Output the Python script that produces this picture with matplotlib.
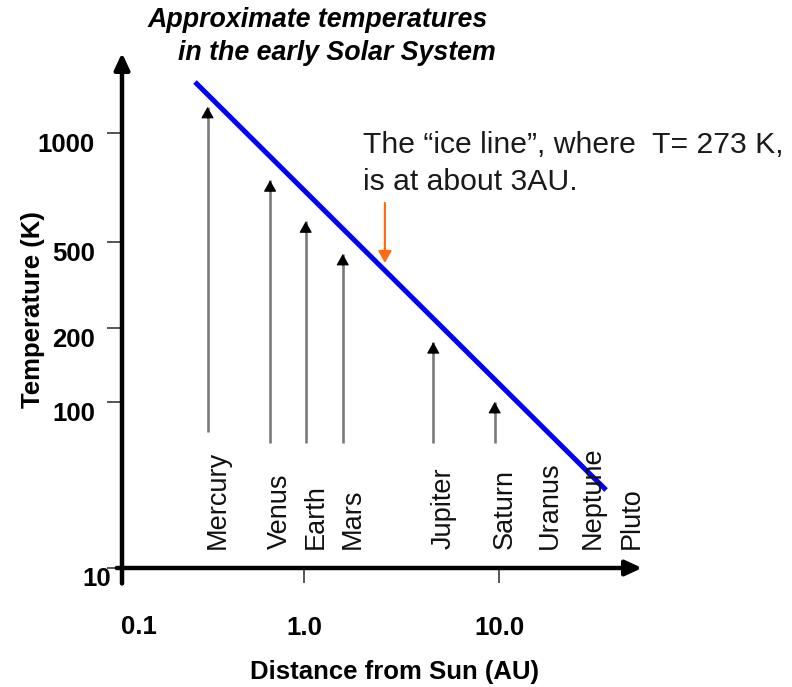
import numpy as np
import matplotlib
matplotlib.use('Agg')
import matplotlib.pyplot as plt

plt.rcParams['font.family'] = ['Liberation Sans', 'DejaVu Sans']
plt.rcParams['ytick.alignment'] = 'top'

# values
planets = ['Mercury', 'Venus', 'Earth', 'Mars', 'Jupiter', 'Saturn', 'Uranus', 'Neptune', 'Pluto']
planet_au = [0.32, 0.67, 1.02, 1.58, 4.6, 9.5, 16.2, 27.0, 42.7]
arrow_top_k = [1180, 740, 570, 440, 175, 100]   # only the first six planets have arrows
arrow_base_k = [66, 57, 57, 57, 57, 57]
line_au = [0.276, 35.4]
line_k = [1383, 29.5]
ice_au = 2.6
ice_k = [641, 400]   # arrow start, arrow tip

y_ticks = [10, 100, 200, 500, 1000]
y_tick_labels = ['', '100', '200', '500', '1000']
x_ticks = [1, 10]
x_tick_labels = ['1.0', '10.0']

# the temperature axis in the original is hand spaced, so the scale follows its ticks
LOG_T = np.log10(y_ticks)
TICK_H = np.array([0, 166, 240, 326, 435], float)
LO_SLOPE = (TICK_H[1] - TICK_H[0]) / (LOG_T[1] - LOG_T[0])
HI_SLOPE = (TICK_H[-1] - TICK_H[-2]) / (LOG_T[-1] - LOG_T[-2])


def _fwd(v):
    lv = np.log10(np.maximum(np.asarray(v, float), 1e-6))
    out = np.interp(lv, LOG_T, TICK_H)
    out = np.where(lv < LOG_T[0], TICK_H[0] + (lv - LOG_T[0]) * LO_SLOPE, out)
    out = np.where(lv > LOG_T[-1], TICK_H[-1] + (lv - LOG_T[-1]) * HI_SLOPE, out)
    return out


def _inv(h):
    h = np.asarray(h, float)
    lv = np.interp(h, TICK_H, LOG_T)
    lv = np.where(h < TICK_H[0], LOG_T[0] + (h - TICK_H[0]) / LO_SLOPE, lv)
    lv = np.where(h > TICK_H[-1], LOG_T[-1] + (h - TICK_H[-1]) / HI_SLOPE, lv)
    return 10 ** lv


fig = plt.figure(figsize=(7.92, 6.87), dpi=100)
ax = fig.add_axes([122 / 792, 119 / 687, 520 / 792, 515 / 687])
ax.set_xscale('log')
ax.set_yscale('function', functions=(_fwd, _inv))
ax.set_xlim(0.1166, 54.1)
ax.set_ylim(10, 1663)
for s in ax.spines.values():
    s.set_visible(False)

# axes drawn as arrows
axis_kw = dict(arrowstyle='-|>,head_length=0.75,head_width=0.35', lw=3.2, color='black',
               shrinkA=0, shrinkB=0, mutation_scale=13)
ax.annotate('', xy=(0, 1), xytext=(0, -0.03), xycoords='axes fraction',
            arrowprops=axis_kw, annotation_clip=False)
ax.annotate('', xy=(1, 0), xytext=(-0.01, 0), xycoords='axes fraction',
            arrowprops=axis_kw, annotation_clip=False)

# ticks
ax.minorticks_off()
ax.set_yticks(y_ticks, y_tick_labels, fontweight='bold', va='top')
ax.set_xticks(x_ticks, x_tick_labels, fontweight='bold')
ax.tick_params(axis='y', direction='out', length=10.5, width=1.4, color='#555555',
               pad=9, labelsize=18.5)
ax.tick_params(axis='x', direction='out', length=10.5, width=1.4, color='#555555',
               pad=24, labelsize=18.5)
ax.annotate('10', xy=(0, 0), xycoords='axes fraction', xytext=(-11, -11),
            textcoords='offset pixels', ha='right', va='center',
            fontsize=18.5, fontweight='bold', annotation_clip=False)
ax.annotate('0.1', xy=(0, 0), xycoords='axes fraction', xytext=(17, -59),
            textcoords='offset pixels', ha='center', va='center',
            fontsize=18.5, fontweight='bold', annotation_clip=False)

ax.set_ylabel('Temperature (K)', fontsize=18.5, fontweight='bold', va='center')
ax.yaxis.set_label_coords((33 - 122) / 520, (568 - 310) / 515)
ax.set_xlabel('Distance from Sun (AU)', fontsize=18.5, fontweight='bold', va='center')
ax.xaxis.set_label_coords((394 - 122) / 520, (568 - 672) / 515)

# temperature line
ax.plot(line_au, line_k, color='#0000ff', lw=3.6, solid_capstyle='butt')

# planet arrows: grey stems with small black heads
for au, top, base in zip(planet_au, arrow_top_k, arrow_base_k):
    ax.plot([au, au], [base, top], color='#7a7a7a', lw=1.9, solid_capstyle='butt')
    ax.annotate('', xy=(au, top), xytext=(0, -8), textcoords='offset points',
                arrowprops=dict(arrowstyle='-|>,head_length=0.5,head_width=0.28',
                                color='black', lw=0.8, shrinkA=0, shrinkB=0,
                                mutation_scale=14))
for name, au in zip(planets, planet_au):
    ax.annotate(name, xy=(au, 0), xycoords=('data', 'axes fraction'), xytext=(10, 19),
                textcoords='offset pixels', rotation=90, ha='center', va='bottom',
                fontsize=19.5, color='#111111', annotation_clip=False)

# ice line
ax.annotate('', xy=(ice_au, ice_k[1]), xytext=(ice_au, ice_k[0]),
            arrowprops=dict(arrowstyle='-|>,head_length=0.5,head_width=0.28',
                            color='#ff6a13', lw=1.6, shrinkA=0, shrinkB=0, mutation_scale=14))
fig.text(363 / 792, 1 - 153 / 687, 'The \u201cice line\u201d, where  T= 273 K,',
         fontsize=21.7, color='#1a1a1a', ha='left', va='baseline')
fig.text(363 / 792, 1 - 190 / 687, 'is at about 3AU.',
         fontsize=21.7, color='#1a1a1a', ha='left', va='baseline')

# title
fig.text(148 / 792, 1 - 27 / 687, 'Approximate temperatures', fontsize=19.3,
         fontweight='bold', fontstyle='italic', ha='left', va='baseline')
fig.text(178 / 792, 1 - 60 / 687, 'in the early Solar System', fontsize=19.3,
         fontweight='bold', fontstyle='italic', ha='left', va='baseline')

fig.savefig('out.png', dpi=100)
